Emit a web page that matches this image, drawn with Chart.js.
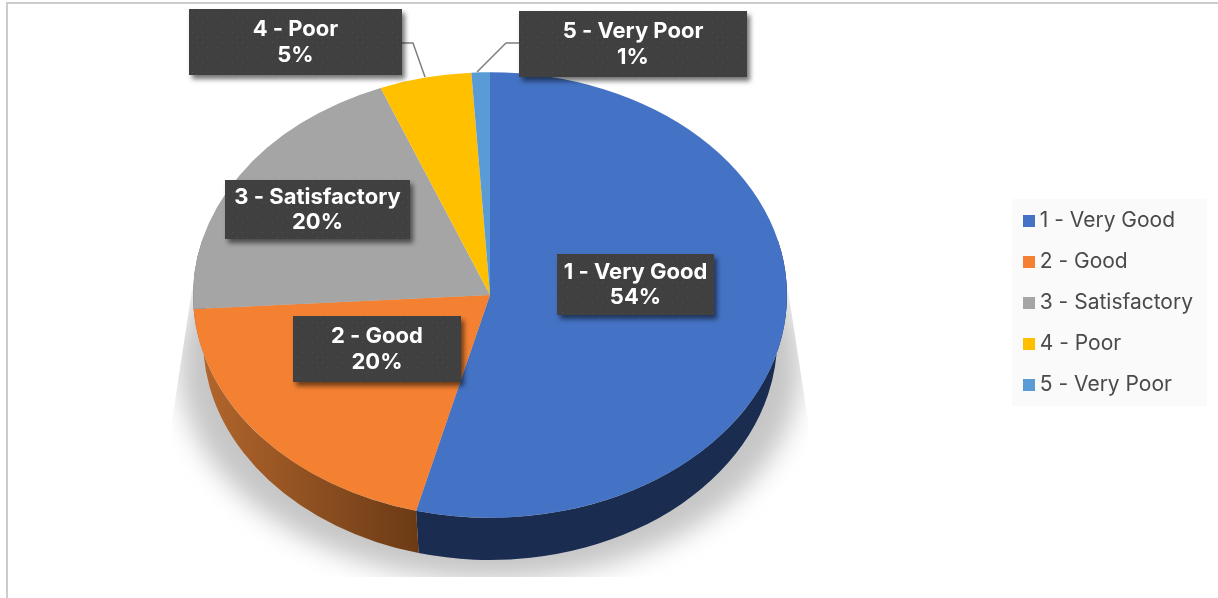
<!DOCTYPE html>
<html>
<head>
<meta charset="utf-8">
<title>Ratings</title>
<script src="https://cdn.jsdelivr.net/npm/chart.js@4"></script>
<style>
    html, body { margin: 0; padding: 0; background: #fff; overflow: hidden; }
    #frame { position: absolute; left: 6px; top: 2px; width: 1300px; height: 700px; border: 2px solid #cccccc; }
    #chart { position: absolute; left: 0; top: 0; }
</style>
</head>
<body>
<div id="frame"></div>
<canvas id="chart" width="1218" height="598"></canvas>
<script>
// Chart data
const categories = ["1 - Very Good", "2 - Good", "3 - Satisfactory", "4 - Poor", "5 - Very Poor"];
const values = [54, 20, 20, 5, 1];
const colors = ["#4472c4", "#f48132", "#a5a5a5", "#ffc000", "#5b9bd5"];

// Tilted pie geometry
const pie = { x: 490, y: 295, radius: 297, tilt: 0.75 };
const base = { x: 490, y: 340, rx: 287, ry: 220 };

// Data label boxes: [left, top, width, height]
const labelBoxes = [
    [557, 254, 157, 61],
    [293, 316, 168, 66],
    [225, 180, 185, 59],
    [189, 9, 213, 66],
    [519, 11, 228, 66],
];
// Leader lines for the two thin slices
const leaders = [
    null,
    null,
    null,
    [[402, 43], [413, 43], [425, 77]],
    [[519, 43], [506, 43], [477, 72]],
];

const labelFont = "bold 22px Inter";
const legendFont = "Inter";

// Square legend swatches, drawn tight against the text
const swatches = colors.map((color) => {
    const swatch = document.createElement("canvas");
    swatch.width = 12;
    swatch.height = 12;
    const swatchCtx = swatch.getContext("2d");
    swatchCtx.fillStyle = color;
    swatchCtx.fillRect(0, 0, 12, 12);
    return swatch;
});

// Dotted fill of the label boxes
function dotPattern(ctx) {
    const tile = document.createElement("canvas");
    tile.width = 10;
    tile.height = 10;
    const tileCtx = tile.getContext("2d");
    tileCtx.fillStyle = "#404040";
    tileCtx.fillRect(0, 0, 10, 10);
    tileCtx.fillStyle = "#4f4f4f";
    tileCtx.fillRect(2, 2, 1, 1);
    tileCtx.fillRect(7, 7, 1, 1);
    return ctx.createPattern(tile, "repeat");
}

// Shadow under the pie, cut off along a trapezoid
function drawGroundShadow(ctx) {
    ctx.save();
    ctx.beginPath();
    ctx.moveTo(192, 290);
    ctx.lineTo(788, 290);
    ctx.lineTo(808, 420);
    ctx.lineTo(808, 577);
    ctx.lineTo(172, 577);
    ctx.lineTo(172, 420);
    ctx.closePath();
    ctx.clip();
    ctx.filter = "blur(13px)";
    ctx.fillStyle = "#c6c6c6";
    ctx.beginPath();
    ctx.ellipse(490, 365, 311, 215, 0, 0, Math.PI * 2);
    ctx.fill();
    ctx.restore();
}

// Side wall of the pie, only for the front half of each slice
function drawWall(ctx, arc, index) {
    const from = Math.max(arc.startAngle, -0.25);
    const to = Math.min(arc.endAngle, Math.PI + 0.25);
    if (from >= to) {
        return;
    }
    const shade = ctx.createLinearGradient(200, 0, 420, 0);
    if (index === 0) {
        shade.addColorStop(0, "#1a2c50");
        shade.addColorStop(1, "#1a2c50");
    } else if (index === 1) {
        shade.addColorStop(0, "#b3662c");
        shade.addColorStop(1, "#6b3a15");
    } else {
        shade.addColorStop(0, "#6e6e6e");
        shade.addColorStop(1, "#6e6e6e");
    }
    ctx.fillStyle = shade;
    ctx.beginPath();
    ctx.ellipse(pie.x, pie.y, pie.radius, pie.radius * pie.tilt, 0, from, to);
    ctx.ellipse(base.x, base.y, base.rx, base.ry, 0, to, from, true);
    ctx.closePath();
    ctx.fill();
}

// Squashes the flat pie into an ellipse and puts the wall under it
const tiltedPie = {
    id: "tiltedPie",
    beforeDatasetsDraw(chart) {
        const ctx = chart.ctx;
        const arcs = chart.getDatasetMeta(0).data;
        drawGroundShadow(ctx);
        arcs.forEach((arc, i) => drawWall(ctx, arc, i));
        ctx.save();
        ctx.translate(pie.x, pie.y);
        ctx.scale(1, pie.tilt);
        ctx.translate(-arcs[0].x, -arcs[0].y);
    },
    afterDatasetsDraw(chart) {
        chart.ctx.restore();
    },
};

// Panel behind the legend
const legendPanel = {
    id: "legendPanel",
    beforeDraw(chart) {
        chart.ctx.fillStyle = "#fafafa";
        chart.ctx.fillRect(1012, 199, 195, 207);
    },
};

// Dark boxes with category and percentage
const valueLabels = {
    id: "valueLabels",
    afterDraw(chart) {
        const ctx = chart.ctx;
        const pattern = dotPattern(ctx);
        ctx.save();
        leaders.forEach((points) => {
            if (!points) {
                return;
            }
            ctx.strokeStyle = "#7f7f7f";
            ctx.lineWidth = 1.5;
            ctx.beginPath();
            points.forEach((p, i) => (i ? ctx.lineTo(p[0], p[1]) : ctx.moveTo(p[0], p[1])));
            ctx.stroke();
        });
        categories.forEach((name, i) => {
            const [left, top, width, height] = labelBoxes[i];
            ctx.save();
            ctx.shadowColor = "rgba(0, 0, 0, 0.55)";
            ctx.shadowBlur = 5;
            ctx.shadowOffsetX = 3;
            ctx.shadowOffsetY = 4;
            ctx.fillStyle = pattern;
            ctx.fillRect(left, top, width, height);
            ctx.restore();

            ctx.fillStyle = "#ffffff";
            ctx.font = labelFont;
            ctx.textAlign = "center";
            ctx.textBaseline = "middle";
            const middle = top + height / 2;
            ctx.fillText(name, left + width / 2, middle - 12.5);
            ctx.fillText(values[i] + "%", left + width / 2, middle + 13);
        });
        ctx.restore();
    },
};

new Chart(document.getElementById("chart"), {
    type: "pie",
    data: {
        labels: categories,
        datasets: [
            {
                data: values,
                backgroundColor: colors,
                borderWidth: 0,
                radius: pie.radius,
                clip: false,
            },
        ],
    },
    options: {
        responsive: false,
        animation: false,
        layout: { padding: { top: 8, right: 15 } },
        plugins: {
            tooltip: { enabled: false },
            legend: {
                position: "right",
                labels: {
                    usePointStyle: true,
                    boxWidth: 1,
                    padding: 20,
                    color: "#4a4a4a",
                    font: { family: legendFont, size: 21 },
                    generateLabels(chart) {
                        const items = Chart.overrides.pie.plugins.legend.labels.generateLabels(chart);
                        items.forEach((item, i) => {
                            item.pointStyle = swatches[i];
                        });
                        return items;
                    },
                },
            },
        },
    },
    plugins: [legendPanel, tiltedPie, valueLabels],
});
</script>
</body>
</html>
